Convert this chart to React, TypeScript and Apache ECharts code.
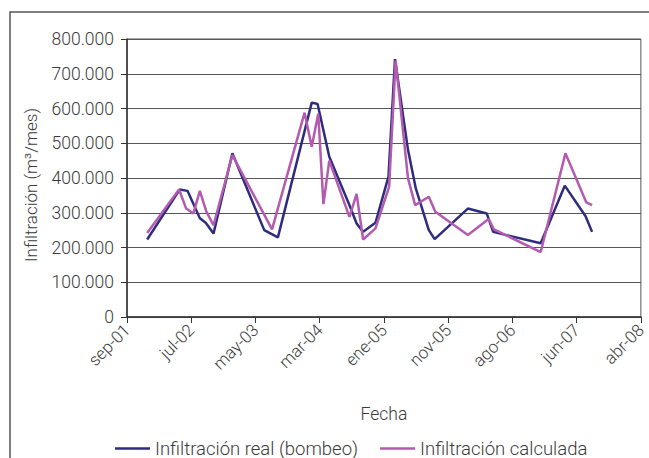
import React, { useEffect, useRef } from "react";
import * as echarts from "echarts";

// x values: months elapsed since sep-01
const xTickLabels = ["sep-01", "jul-02", "may-03", "mar-04", "ene-05", "nov-05", "ago-06", "jun-07", "abr-08"];
const xTickStep = 9.875;

const realMonths = [3.1, 8.1, 9.3, 11.2, 12.1, 13.3, 16.2, 21.1, 23.2, 28.4, 29.3, 31.1, 34.3, 35.3, 36.3, 38.2, 40.2, 41.2, 43.2, 44.4, 46.4, 47.3, 52.4, 55.3, 56.3, 63.6, 67.3, 70.5, 71.5];
const realValues = [223000, 367000, 363000, 284000, 271000, 240000, 471000, 250000, 229000, 617000, 613000, 461000, 317000, 269000, 245000, 271000, 404000, 742000, 481000, 370000, 250000, 224000, 312000, 298000, 245000, 212000, 378000, 290000, 245000];

const calcMonths = [3.1, 8.0, 9.1, 10.2, 11.2, 12.2, 13.3, 16.2, 22.3, 27.3, 28.4, 29.4, 30.2, 31.1, 34.2, 35.3, 36.3, 38.2, 40.3, 41.3, 43.2, 44.3, 46.4, 47.4, 52.4, 55.6, 56.4, 63.6, 67.4, 70.6, 71.5];
const calcValues = [242000, 367000, 312000, 298000, 363000, 303000, 264000, 466000, 252000, 588000, 490000, 585000, 325000, 450000, 288000, 354000, 223000, 255000, 375000, 738000, 399000, 322000, 346000, 303000, 236000, 282000, 252000, 187000, 471000, 330000, 322000];

const seriesNames = ["Infiltración real (bombeo)", "Infiltración calculada"];

const FONT = "Roboto";
const TEXT_COLOR = "#3a3a3a";

function fmtThousands(v: number): string {
  const s = Math.round(v).toString();
  return s.replace(/\B(?=(\d{3})+(?!\d))/g, ".");
}

export default function App() {
  const ref = useRef<HTMLDivElement>(null);
  useEffect(() => {
    if (!ref.current) return;
    const chart = echarts.init(ref.current, undefined, { renderer: "svg" });
    chart.setOption({
      animation: false,
      backgroundColor: "#ffffff",
      textStyle: { fontFamily: FONT, fontWeight: 300, color: TEXT_COLOR },
      graphic: [
        {
          type: "rect",
          shape: { x: 10, y: 12, width: 700, height: 500 },
          style: { fill: "none", stroke: "#555", lineWidth: 1.5 },
          silent: true,
        },
      ],
      grid: {
        left: 127,
        right: 6,
        top: 39,
        bottom: 141,
        show: true,
        borderColor: "#555",
        borderWidth: 1,
        backgroundColor: "transparent",
      },
      legend: {
        left: 110,
        top: 434,
        itemWidth: 35,
        itemHeight: 14,
        itemGap: 22,
        icon: "path://M0,6 L35,6 L35,8.5 L0,8.5 Z",
        textStyle: { fontFamily: FONT, fontWeight: 300, fontSize: 18.5, color: TEXT_COLOR },
        data: seriesNames,
      },
      xAxis: {
        type: "value",
        min: 0,
        max: xTickStep * 8,
        interval: xTickStep,
        name: "Fecha",
        nameLocation: "middle",
        nameGap: 88,
        nameTextStyle: { fontFamily: FONT, fontWeight: 300, fontSize: 17.5, color: TEXT_COLOR },
        axisLine: { show: true, lineStyle: { color: "#333", width: 1.5 } },
        axisTick: { show: true, length: 6, inside: false, lineStyle: { color: "#333" } },
        splitLine: { show: false },
        axisLabel: {
          rotate: 45,
          margin: 10,
          fontFamily: FONT,
          fontWeight: 300,
          fontSize: 17,
          color: TEXT_COLOR,
          formatter: (v: number) => xTickLabels[Math.round(v / xTickStep)] ?? "",
        },
      },
      yAxis: {
        type: "value",
        min: 0,
        max: 800000,
        interval: 100000,
        name: "Infiltración (m³/mes)",
        nameLocation: "middle",
        nameGap: 88,
        nameRotate: 90,
        nameTextStyle: { fontFamily: FONT, fontWeight: 300, fontSize: 17, color: TEXT_COLOR, padding: [0, 14, 0, 0] },
        axisLine: { show: true, lineStyle: { color: "#333", width: 1.5 } },
        axisTick: { show: true, length: 6, lineStyle: { color: "#333" } },
        splitLine: { show: true, lineStyle: { color: "#555", width: 1 } },
        axisLabel: {
          margin: 13,
          fontFamily: FONT,
          fontWeight: 300,
          fontSize: 17.5,
          color: TEXT_COLOR,
          formatter: (v: number) => fmtThousands(v),
        },
      },
      series: [
        {
          name: seriesNames[0],
          type: "line",
          symbol: "none",
          data: realMonths.map((m, i) => [m, realValues[i]]),
          lineStyle: { color: "#2E2C7E", width: 2.5 },
          itemStyle: { color: "#2E2C7E" },
        },
        {
          name: seriesNames[1],
          type: "line",
          symbol: "none",
          data: calcMonths.map((m, i) => [m, calcValues[i]]),
          lineStyle: { color: "#B35BAE", width: 2.5 },
          itemStyle: { color: "#B35BAE" },
        },
      ],
    });
    return () => chart.dispose();
  }, []);
  return <div ref={ref} style={{ width: 649, height: 458, position: "absolute", left: 0, top: 0 }} />;
}
